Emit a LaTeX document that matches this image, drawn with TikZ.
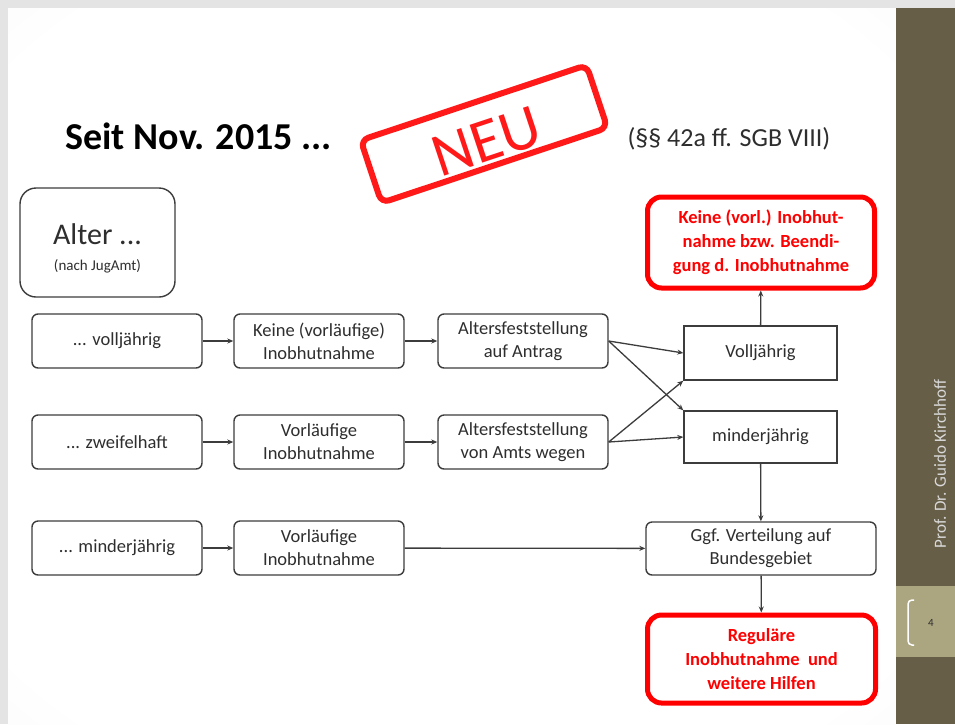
\documentclass[tikz,border=0pt]{standalone}
\usepackage{fontspec}
\setmainfont{Carlito}
\usetikzlibrary{arrows.meta, positioning, calc}
\definecolor{slidebar}{HTML}{675E48}
\definecolor{slidetab}{HTML}{ABA580}
\definecolor{framegray}{HTML}{E4E4E4}
\definecolor{boxline}{HTML}{3C3C3C}
\definecolor{stampred}{HTML}{FF0000}
\definecolor{textdark}{HTML}{2E2E2E}
\pgfdeclareradialshading{vignette}{\pgfpoint{0bp}{0bp}}{color(0bp)=(white); color(32bp)=(white); color(50bp)=(gray!10); color(72bp)=(gray!38)}

\begin{document}
\begin{tikzpicture}[
    x=1pt, y=-1pt,
    box/.style={draw=boxline, line width=1.4pt, rounded corners=6pt, minimum width=170pt, minimum height=54pt, inner sep=0pt, align=center, text=textdark, font=\fontsize{18.5}{23}\selectfont},
    sqbox/.style={box, rounded corners=0pt, minimum width=153pt},
    redbox/.style={draw=stampred, line width=5pt, rounded corners=14pt, inner sep=0pt, align=center, text=stampred, font=\fontsize{18.5}{24}\selectfont\bfseries},
    flow/.style={-{Stealth[length=6pt, width=5pt]}, line width=1.3pt, draw=boxline},
]

% Slide frame
\fill[framegray] (0,0) rectangle (955,724);
\shade[shading=vignette] (8,8) rectangle (896,724);
\fill[slidebar] (896,8) rectangle (955,724);
\fill[slidetab] (896,586) rectangle (955,657);
\draw[white, line width=1.5pt, rounded corners=4pt] (914,600) -- (908,600) -- (908,645) -- (914,645);
\node[font=\fontsize{11}{11}\selectfont, text=textdark] (pagenr) at (931,623) {4};
\node[rotate=90, font=\fontsize{17}{17}\selectfont, text=gray!30] (author) at (940,464) {Prof. Dr. Guido Kirchhoff};

% Title
\node[anchor=west, font=\fontsize{38}{38}\selectfont\bfseries, text=black] (title) at (62,136) {Seit Nov. 2015 ...};
\node[anchor=west, font=\fontsize{26}{26}\selectfont, text=textdark] (norm) at (624,139) {(§§ 42a ff. SGB VIII)};

% Stamp
\node[draw=stampred, line width=6pt, rounded corners=8pt, rotate=18.4, minimum width=238pt, minimum height=66pt, inner sep=0pt, opacity=0.9] (stamp) at (484,134) {};
\node[rotate=18.4, anchor=base, text=stampred, font=\fontsize{62}{62}\selectfont, inner sep=0pt, opacity=0.9] (neu) at (493,160) {NEU};

% Alter
\node[box, rounded corners=16pt, minimum width=155pt, minimum height=109pt] (alter) at (97.5,242.5) {};
\node[align=center, text=textdark, inner sep=0pt, font=\fontsize{30}{32}\selectfont] (altertext) at (97.5,248) {Alter ...\\[-6pt] {\fontsize{15}{15}\selectfont (nach JugAmt)}};

% Row 1
\node[box] (a1) at (117,341) {... volljährig};
\node[box] (b1) at (319,341) {Keine (vorläufige)\\Inobhutnahme};
\node[box] (c1) at (523,341) {Altersfeststellung\\auf Antrag};

% Row 2
\node[box] (a2) at (117,442) {... zweifelhaft};
\node[box] (b2) at (319,442) {Vorläufige\\Inobhutnahme};
\node[box] (c2) at (523,442) {Altersfeststellung\\von Amts wegen};

% Row 3
\node[box] (a3) at (117,548) {... minderjährig};
\node[box] (b3) at (319,548) {Vorläufige\\Inobhutnahme};

% Right column
\node[sqbox] (voll) at (760.5,353) {Volljährig};
\node[sqbox, minimum height=52pt] (minder) at (760.5,437) {minderjährig};
\node[redbox, minimum width=227pt, minimum height=91pt] (ende) at (761,242.5) {Keine (vorl.) Inobhut-\\nahme bzw. Beendi-\\gung d. Inobhutnahme};
\node[box, minimum width=230pt, minimum height=53pt] (verteil) at (761,548.5) {Ggf. Verteilung auf\\Bundesgebiet};
\node[redbox, minimum width=228pt, minimum height=88pt] (regulaer) at (761.5,659) {Reguläre\\Inobhutnahme \ und\\weitere Hilfen};

% Arrows
\draw[flow] (a1) -- (b1);
\draw[flow] (b1) -- (c1);
\draw[flow] (a2) -- (b2);
\draw[flow] (b2) -- (c2);
\draw[flow] (a3) -- (b3);
\draw[flow] (b3) -- (verteil);
\draw[flow] (c1.east) -- (voll.west);
\draw[flow] (c1.east) -- (minder.north west);
\draw[flow] (c2.east) -- (voll.south west);
\draw[flow] (c2.east) -- (minder.west);
\draw[flow] (voll) -- (ende);
\draw[flow] (minder) -- (verteil);
\draw[flow] (verteil) -- (regulaer);

\end{tikzpicture}
\end{document}
